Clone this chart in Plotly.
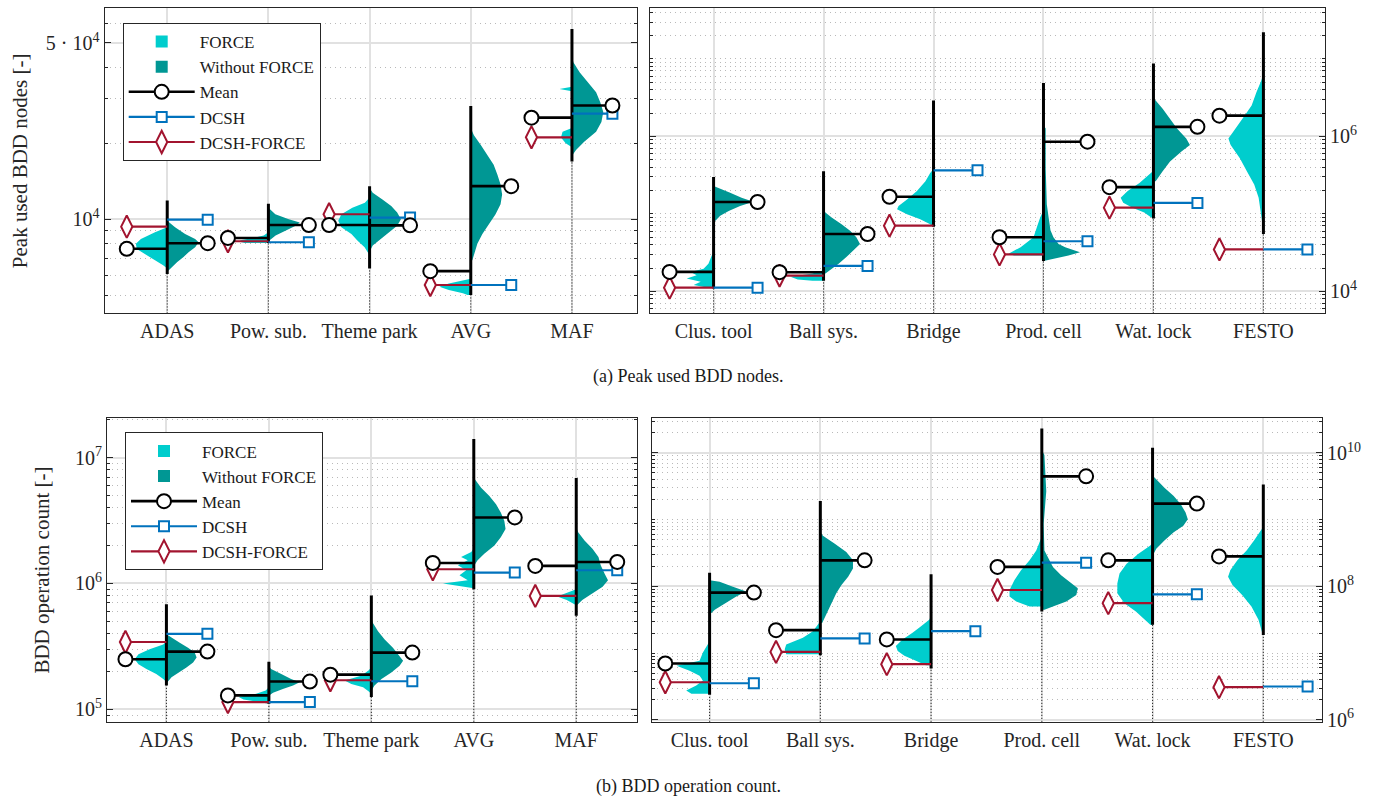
import math
import plotly.graph_objects as go

CYAN = "#00CDCD"
TEAL = "#009794"
BLUE = "#0072BD"
RED = "#A2142F"
BLACK = "#000000"
FONT = "Liberation Serif"

# ---------------- (a) Peak used BDD nodes, left panel ----------------
a1_cats = ["ADAS", "Pow. sub.", "Theme park", "AVG", "MAF"]
a1_min = [6055, 8050, 6370, 5006, 16940]
a1_max = [11870, 11525, 13520, 28100, 56830]
a1_mean_force = [7630, 8425, 9480, 6220, 25270]
a1_mean_noforce = [8030, 9475, 9450, 13520, 28250]
a1_dcsh = [9950, 8100, 10150, 5480, 26200]
a1_dcsh_force = [9340, 8175, 10460, 5480, 21120]
a1_force_vals = [
    [9280, 8870, 8350, 7980, 7610, 7290, 6870, 6560, 6370],
    [8870, 8610, 8420, 8270, 8150, 8050],
    [12200, 11630, 11110, 10460, 9857, 9280, 8735, 8230, 7740, 7290, 7000],
    [5800, 5734, 5560, 5395, 5235, 5080, 5006],
    [33500, 32850, 32200, 23000, 22200, 21100, 20000, 19300],
]
a1_force_dens = [
    [0, 0.39, 0.84, 1.0, 0.97, 0.71, 0.39, 0.13, 0],
    [0, 0.15, 0.5, 0.85, 0.95, 0.75],
    [0, 0.15, 0.55, 0.9, 1.0, 0.9, 0.58, 0.39, 0.16, 0.03, 0],
    [0, 0.2, 0.7, 1.0, 0.7, 0.25, 0.1],
    [0, 0.4, 0, 0, 0.3, 0.35, 0.2, 0],
]
a1_noforce_vals = [
    [9857, 9280, 8735, 8350, 8100, 7740, 7400, 7075, 6765, 6465, 6180],
    [11110, 10460, 10000, 9705, 9420, 9005, 8610, 8230],
    [13300, 12730, 11980, 11280, 10620, 10000, 9420, 8870, 8350, 7865, 7520],
    [23000, 21540, 19690, 17980, 16430, 15010, 13720, 12530, 11450, 10460, 9560, 8735, 7980, 7290, 6870],
    [44000, 41830, 38200, 34890, 31880, 29130, 26620, 24310, 22220, 20300, 18810, 17980],
]
a1_noforce_dens = [
    [0, 0.25, 0.57, 0.89, 1.0, 0.89, 0.68, 0.52, 0.32, 0.16, 0.03],
    [0, 0.22, 0.65, 1.0, 0.87, 0.55, 0.23, 0.03],
    [0, 0.1, 0.41, 0.69, 0.88, 1.0, 0.88, 0.63, 0.38, 0.1, 0.02],
    [0, 0.1, 0.32, 0.53, 0.73, 0.85, 0.95, 1.0, 0.95, 0.79, 0.57, 0.37, 0.21, 0.1, 0.05],
    [0, 0.05, 0.25, 0.52, 0.77, 0.9, 1.0, 0.94, 0.77, 0.39, 0.13, 0.02],
]

# ---------------- (a) Peak used BDD nodes, right panel ----------------
a2_cats = ["Clus. tool", "Ball sys.", "Bridge", "Prod. cell", "Wat. lock", "FESTO"]
a2_min = [10920, 13700, 68330, 24650, 87250, 55000]
a2_max = [299800, 354400, 2906000, 4890000, 8730000, 22100000]
a2_mean_force = [17840, 17690, 166500, 49920, 221400, 1854000]
a2_mean_noforce = [142500, 55000, None, 855700, 1330000, None]
a2_dcsh = [11150, 21280, 364900, 44370, 138400, 34770]
a2_dcsh_force = [11150, 16000, 70400, 30010, 120500, 34770]
a2_force_vals = [
    [32000, 29150, 22770, 19660, 17840, 16200, 14650, 13300, 12070, 11250],
    [18760, 16970, 15400, 14230, 13700],
    [380000, 337200, 264100, 196900, 153800, 126700, 114700, 99000, 85450, 73800, 68330],
    [110300, 89800, 67270, 49920, 37200, 30550, 28970],
    [360000, 320700, 251200, 196900, 161700, 139600, 120500, 104000, 89800],
    [6500000, 5230000, 3720000, 2508000, 1697000, 1148000, 942900, 774500, 523900, 354400, 239000, 161700, 99000, 60760],
]
a2_force_dens = [
    [0, 0.05, 0.14, 0.27, 0.62, 0.46, 0.73, 0.35, 0.54, 0.19],
    [0, 0.3, 0.9, 0.7, 0.3],
    [0, 0.09, 0.22, 0.45, 0.72, 0.95, 0.99, 0.72, 0.36, 0.09, 0.02],
    [0, 0.09, 0.18, 0.27, 0.62, 0.95, 0.8],
    [0, 0.13, 0.38, 0.7, 0.89, 0.82, 0.57, 0.25, 0.06],
    [0, 0.06, 0.19, 0.32, 0.57, 0.83, 0.95, 0.89, 0.64, 0.45, 0.25, 0.13, 0.06, 0.01],
]
a2_noforce_vals = [
    [230000, 216900, 187300, 161700, 143800, 126700, 109400, 94400, 81500],
    [115000, 104000, 89800, 73800, 60770, 49920, 41000, 33760, 27730, 22770, 19660, 16970],
    [],
    [1400000, 1265000, 390500, 132800, 89800, 61300, 49920, 41000, 37200, 32110, 29150, 26380, 24650],
    [3200000, 2906000, 2277000, 1697000, 1265000, 942900, 774500, 637800, 475500, 354400, 264100],
    [],
]
a2_noforce_dens = [
    [0, 0.14, 0.45, 0.76, 1.08, 0.72, 0.41, 0.18, 0.05],
    [0, 0.05, 0.22, 0.49, 0.72, 0.89, 0.99, 0.81, 0.62, 0.41, 0.22, 0.05],
    [],
    [0, 0.06, 0.06, 0.09, 0.14, 0.19, 0.27, 0.41, 0.59, 0.99, 0.68, 0.3, 0.05],
    [0, 0.06, 0.25, 0.45, 0.64, 0.89, 0.99, 0.76, 0.45, 0.25, 0.06],
    [],
]

# ---------------- (b) BDD operation count, left panel ----------------
b1_cats = ["ADAS", "Pow. sub.", "Theme park", "AVG", "MAF"]
b1_min = [154300, 110700, 124900, 897500, 553500]
b1_max = [684000, 238300, 800800, 14030000, 6888000]
b1_mean_force = [249700, 128800, 188300, 1454000, 1377000]
b1_mean_noforce = [287100, 166000, 281900, 3342000, 1481000]
b1_dcsh = [397500, 114100, 166900, 1220000, 1272000]
b1_dcsh_force = [342100, 114100, 170000, 1295000, 794800]
b1_force_vals = [
    [345000, 327600, 299200, 273400, 249700, 228200, 208400, 190400, 174000, 165000],
    [149600, 141000, 132600, 124900, 119800, 114100, 110700],
    [215000, 202500, 185000, 169000, 158900, 149700, 138500, 132000],
    [1900000, 1774000, 1621000, 1524000, 1392000, 1272000, 1162000, 1061000, 1000000, 942300, 913400],
    [897600, 834600, 786300, 739300, 696600, 671500],
]
b1_force_dens = [
    [0, 0.1, 0.53, 0.88, 1.0, 0.88, 0.63, 0.32, 0.1, 0],
    [0, 0.1, 0.4, 0.95, 0.8, 0.35, 0.1],
    [0, 0.1, 0.32, 0.84, 0.63, 0.26, 0.08, 0],
    [0, 0.08, 0.4, 0.19, 0.5, 0.24, 0.45, 0.19, 0.97, 0.29, 0.08],
    [0, 0.35, 0.6, 0.3, 0.1, 0],
]
b1_noforce_vals = [
    [395000, 369800, 337900, 308700, 281900, 257600, 235300, 214900, 196300, 179300, 163800],
    [220000, 208400, 190400, 174000, 163900, 154300, 145100, 135000, 128000],
    [540000, 485200, 417400, 358500, 308700, 265700, 242600, 221600, 196300, 174000, 154300, 140000],
    [7500000, 6680000, 5748000, 4939000, 4250000, 3658000, 3143000, 2704000, 2327000, 1999000, 1720000, 1524000, 1392000],
    [2800000, 2548000, 2188000, 1883000, 1621000, 1392000, 1198000, 1061000, 942300, 834600, 739300, 675100],
]
b1_noforce_dens = [
    [0, 0.16, 0.42, 0.68, 0.89, 0.95, 0.84, 0.63, 0.39, 0.16, 0.03],
    [0, 0.07, 0.39, 0.7, 0.97, 0.76, 0.44, 0.13, 0],
    [0, 0.05, 0.21, 0.42, 0.68, 0.89, 1.0, 0.89, 0.63, 0.32, 0.1, 0],
    [0, 0.04, 0.23, 0.49, 0.7, 0.85, 0.96, 1.0, 0.85, 0.65, 0.33, 0.12, 0.02],
    [0, 0.06, 0.26, 0.51, 0.7, 0.77, 0.89, 1.0, 0.83, 0.51, 0.19, 0.04],
]

# ---------------- (b) BDD operation count, right panel ----------------
b2_cats = ["Clus. tool", "Ball sys.", "Bridge", "Prod. cell", "Wat. lock", "FESTO"]
b2_min = [2371000, 9278000, 5894000, 42190000, 26710000, 18600000]
b2_max = [159600000, 1899000000, 152100000, 23230000000, 11980000000, 3357000000]
b2_mean_force = [6990000, 22070000, 16010000, 195800000, 245300000, 281100000]
b2_mean_noforce = [80660000, 245300000, None, 4456000000, 1738000000, None]
b2_dcsh = [3533000, 16570000, 21330000, 226800000, 76120000, 3158000]
b2_dcsh_force = [3656000, 10420000, 6823000, 88160000, 56000000, 3083000]
b2_force_vals = [
    [15000000, 13500000, 10170000, 7663000, 6462000, 5449000, 4595000, 3873000, 3267000, 2754000, 2453000],
    [30000000, 26710000, 21330000, 16960000, 13500000, 11390000, 9598000],
    [36000000, 31670000, 25290000, 20120000, 16010000, 12790000, 10780000, 9090000, 7663000, 6597000],
    [560000000, 485200000, 345100000, 245300000, 174400000, 124000000, 88160000, 70370000, 59340000, 50030000],
    [450000000, 409200000, 308300000, 219100000, 155800000, 110800000, 78770000, 56000000, 42190000, 31670000, 26710000],
    [800000000, 723300000, 485200000, 345100000, 245300000, 174400000, 139200000, 104500000, 74320000, 50030000, 31670000, 20120000],
]
b2_force_dens = [
    [0, 0.05, 0.18, 0.27, 0.89, 0.54, 0.27, 0.18, 0.36, 0.63, 0.49],
    [0, 0.06, 0.2, 0.47, 0.92, 0.96, 0.92],
    [0, 0.05, 0.27, 0.5, 0.77, 0.95, 0.9, 0.72, 0.41, 0.14],
    [0, 0.05, 0.15, 0.33, 0.56, 0.74, 0.87, 0.87, 0.69, 0.33],
    [0, 0.06, 0.38, 0.7, 0.89, 0.95, 0.95, 0.76, 0.45, 0.19, 0.06],
    [0, 0.04, 0.25, 0.45, 0.7, 0.89, 0.95, 0.83, 0.57, 0.32, 0.13, 0.03],
]
b2_noforce_vals = [
    [124000000, 117400000, 98990000, 83460000, 70370000, 56000000, 44560000, 39810000],
    [650000000, 575400000, 433500000, 326800000, 245300000, 184800000, 139200000, 104500000, 78770000, 56000000, 39810000, 28300000],
    [],
    [11000000000, 9342000000, 2671000000, 857700000, 345100000, 195800000, 147000000, 117400000, 93420000, 74320000, 59340000, 50030000, 44560000],
    [4600000000, 3981000000, 2999000000, 2252000000, 1696000000, 1279000000, 1017000000, 809300000, 646200000, 485200000, 365600000, 308300000],
    [],
]
b2_noforce_dens = [
    [0, 0.27, 0.63, 0.99, 0.72, 0.41, 0.14, 0.05],
    [0, 0.07, 0.39, 0.7, 0.88, 0.88, 0.75, 0.57, 0.43, 0.3, 0.16, 0.05],
    [],
    [0, 0.07, 0.12, 0.05, 0.07, 0.3, 0.52, 0.75, 0.97, 0.93, 0.66, 0.3, 0.07],
    [0, 0.1, 0.32, 0.57, 0.76, 0.89, 0.95, 0.83, 0.57, 0.32, 0.1, 0.03],
    [],
]

fig = go.Figure()

ARM = 0.4  # horizontal offset of the summary markers


def add_panel(n, cats, vmin, vmax, mf, mn, dc, dcf, fv, fd, nv, nd, W, ylo):
    xr = "x" if n == 1 else "x%d" % n
    yr = "y" if n == 1 else "y%d" % n
    kw = dict(xaxis=xr, yaxis=yr, showlegend=False, hoverinfo="skip")
    ybot = 10 ** ylo
    for i in range(len(cats)):
        c = i + 1
        if fv[i]:
            xs = [c] + [c - W * d for d in fd[i]] + [c, c]
            ys = [fv[i][0]] + fv[i] + [fv[i][-1], fv[i][0]]
            fig.add_trace(go.Scatter(x=xs, y=ys, mode="lines", fill="toself",
                                     fillcolor=CYAN, line=dict(width=0, color=CYAN), **kw))
        if nv[i]:
            xs = [c] + [c + W * d for d in nd[i]] + [c, c]
            ys = [nv[i][0]] + nv[i] + [nv[i][-1], nv[i][0]]
            fig.add_trace(go.Scatter(x=xs, y=ys, mode="lines", fill="toself",
                                     fillcolor=TEAL, line=dict(width=0, color=TEAL), **kw))
    xd, yd, xv, yv = [], [], [], []
    for i in range(len(cats)):
        c = i + 1
        xd += [c, c, None]
        yd += [ybot, vmin[i], None]
        xv += [c, c, None]
        yv += [vmin[i], vmax[i], None]
    fig.add_trace(go.Scatter(x=xd, y=yd, mode="lines",
                             line=dict(color=BLACK, width=1, dash="1px,2px"), **kw))
    fig.add_trace(go.Scatter(x=xv, y=yv, mode="lines",
                             line=dict(color=BLACK, width=3), **kw))

    def arm(vals, side, color, width, symbol, size):
        xl, yl, xm, ym = [], [], [], []
        for i, v in enumerate(vals):
            if v is None:
                continue
            c = i + 1
            xl += [c, c + side * ARM, None]
            yl += [v, v, None]
            xm.append(c + side * ARM)
            ym.append(v)
        fig.add_trace(go.Scatter(x=xl, y=yl, mode="lines",
                                 line=dict(color=color, width=width), **kw))
        fig.add_trace(go.Scatter(x=xm, y=ym, mode="markers",
                                 marker=dict(symbol=symbol, size=size, color="white",
                                             line=dict(color=color, width=2)), **kw))

    arm(dcf, -1, RED, 2.2, "diamond-tall", 16)
    arm(dc, +1, BLUE, 2.2, "square", 10)
    arm(mf, -1, BLACK, 2.6, "circle", 14)
    arm(mn, +1, BLACK, 2.6, "circle", 14)


W_L = 0.31
W_R = 0.335
ranges_y = {1: [3.626, 4.838], 2: [3.715, 7.659], 3: [4.900, 7.312], 4: [5.970, 10.519]}

add_panel(1, a1_cats, a1_min, a1_max, a1_mean_force, a1_mean_noforce, a1_dcsh, a1_dcsh_force,
          a1_force_vals, a1_force_dens, a1_noforce_vals, a1_noforce_dens, W_L, ranges_y[1][0])
add_panel(2, a2_cats, a2_min, a2_max, a2_mean_force, a2_mean_noforce, a2_dcsh, a2_dcsh_force,
          a2_force_vals, a2_force_dens, a2_noforce_vals, a2_noforce_dens, W_R, ranges_y[2][0])
add_panel(3, b1_cats, b1_min, b1_max, b1_mean_force, b1_mean_noforce, b1_dcsh, b1_dcsh_force,
          b1_force_vals, b1_force_dens, b1_noforce_vals, b1_noforce_dens, W_L, ranges_y[3][0])
add_panel(4, b2_cats, b2_min, b2_max, b2_mean_force, b2_mean_noforce, b2_dcsh, b2_dcsh_force,
          b2_force_vals, b2_force_dens, b2_noforce_vals, b2_noforce_dens, W_R, ranges_y[4][0])

# legend entries
for lg, xr, yr in (("legend", "x", "y"), ("legend2", "x3", "y3")):
    common = dict(x=[None], y=[None], xaxis=xr, yaxis=yr, legend=lg)
    fig.add_trace(go.Scatter(name="FORCE", mode="markers",
                             marker=dict(symbol="square", size=12, color=CYAN), **common))
    fig.add_trace(go.Scatter(name="Without FORCE", mode="markers",
                             marker=dict(symbol="square", size=12, color=TEAL), **common))
    fig.add_trace(go.Scatter(name="Mean", mode="lines+markers", line=dict(color=BLACK, width=2.6),
                             marker=dict(symbol="circle", size=14, color="white",
                                         line=dict(color=BLACK, width=2)), **common))
    fig.add_trace(go.Scatter(name="DCSH", mode="lines+markers", line=dict(color=BLUE, width=2.2),
                             marker=dict(symbol="square", size=10, color="white",
                                         line=dict(color=BLUE, width=2)), **common))
    fig.add_trace(go.Scatter(name="DCSH-FORCE", mode="lines+markers", line=dict(color=RED, width=2.2),
                             marker=dict(symbol="diamond-tall", size=16, color="white",
                                         line=dict(color=RED, width=2)), **common))


def minor_vals(rng, majors):
    out = []
    for k in range(int(math.floor(rng[0])), int(math.ceil(rng[1])) + 1):
        for m in range(1, 10):
            v = m * 10 ** k
            if rng[0] <= math.log10(v) <= rng[1] and all(abs(v - M) > 1e-9 * M for M in majors):
                out.append(v)
    return out


W_PX, H_PX = 1379, 805
boxes = {
    1: (104.5, 636.7, 8, 317),
    2: (649.8, 1325, 8, 317),
    3: (107, 636.7, 423, 730),
    4: (652, 1322, 423, 730),
}
ranges_x = {1: [0.38, 5.64], 2: [0.42, 6.56], 3: [0.42, 5.59], 4: [0.48, 6.53]}
cats_all = {1: a1_cats, 2: a2_cats, 3: b1_cats, 4: b2_cats}
yticks = {
    1: ([1e4, 5e4], ["10<sup>4</sup>", "5 · 10<sup>4</sup>"]),
    2: ([1e4, 1e6], ["10<sup>4</sup>", "10<sup>6</sup>"]),
    3: ([1e5, 1e6, 1e7], ["10<sup>5</sup>", "10<sup>6</sup>", "10<sup>7</sup>"]),
    4: ([1e6, 1e8, 1e10], ["10<sup>6</sup>", "10<sup>8</sup>", "10<sup>10</sup>"]),
}
AX = "#262626"
GRID = "#E1E1E1"
tickfont = dict(family=FONT, size=20, color="#262626")

layout = dict(width=W_PX, height=H_PX, autosize=False, margin=dict(l=0, r=0, t=0, b=0),
              paper_bgcolor="white", plot_bgcolor="white", font=dict(family=FONT))
for n in range(1, 5):
    x0, x1, y0, y1 = boxes[n]
    sx = "xaxis" if n == 1 else "xaxis%d" % n
    sy = "yaxis" if n == 1 else "yaxis%d" % n
    layout[sx] = dict(domain=[x0 / W_PX, x1 / W_PX], range=ranges_x[n],
                      anchor="y" if n == 1 else "y%d" % n,
                      tickmode="array", tickvals=list(range(1, len(cats_all[n]) + 1)),
                      ticktext=cats_all[n], ticks="", showgrid=True, gridcolor=GRID, gridwidth=1.5,
                      zeroline=False, showline=True, linecolor=AX, linewidth=1, mirror=True,
                      tickfont=tickfont, fixedrange=True)
    tv, tt = yticks[n]
    layout[sy] = dict(domain=[1 - y1 / H_PX, 1 - y0 / H_PX], type="log", range=ranges_y[n],
                      anchor="x" if n == 1 else "x%d" % n,
                      side="right" if n in (2, 4) else "left",
                      tickmode="array", tickvals=tv, ticktext=tt,
                      ticks="inside", ticklen=6, tickcolor=AX,
                      showgrid=True, gridcolor=GRID, gridwidth=1.5, zeroline=False,
                      showline=True, linecolor=AX, linewidth=1, mirror="allticks",
                      tickfont=tickfont, fixedrange=True,
                      minor=dict(tickmode="array", tickvals=minor_vals(ranges_y[n], tv),
                                 ticks="inside", ticklen=3, tickcolor=AX,
                                 showgrid=True, gridcolor="#B9B9B9", griddash="1px,4px", gridwidth=1))

leg_common = dict(bgcolor="white", bordercolor="#262626", borderwidth=1,
                  font=dict(family=FONT, size=17, color="#1a1a1a"),
                  xanchor="left", yanchor="top", itemwidth=66, tracegroupgap=0)
layout["legend"] = dict(x=122.7 / W_PX, y=1 - 23.3 / H_PX, **leg_common)
layout["legend2"] = dict(x=125 / W_PX, y=1 - 437.3 / H_PX, **leg_common)

fig.update_layout(**layout)

ann_font = dict(family=FONT, size=21, color="#262626")
fig.add_annotation(text="Peak used BDD nodes [-]", x=20 / W_PX, y=1 - 163 / H_PX, xref="paper",
                   yref="paper", textangle=-90, showarrow=False, font=ann_font,
                   xanchor="center", yanchor="middle")
fig.add_annotation(text="BDD operation count [-]", x=42 / W_PX, y=1 - 577 / H_PX, xref="paper",
                   yref="paper", textangle=-90, showarrow=False, font=ann_font,
                   xanchor="center", yanchor="middle")
cap_font = dict(family=FONT, size=18, color="#1a1a1a")
fig.add_annotation(text="(a) Peak used BDD nodes.", x=688 / W_PX, y=1 - 381 / H_PX, xref="paper",
                   yref="paper", showarrow=False, font=cap_font, xanchor="center", yanchor="middle")
fig.add_annotation(text="(b) BDD operation count.", x=688 / W_PX, y=1 - 795 / H_PX, xref="paper",
                   yref="paper", showarrow=False, font=cap_font, xanchor="center", yanchor="middle")

fig.write_html("out.html", config={"displayModeBar": False},
               post_script="document.body.style.margin='0';")
